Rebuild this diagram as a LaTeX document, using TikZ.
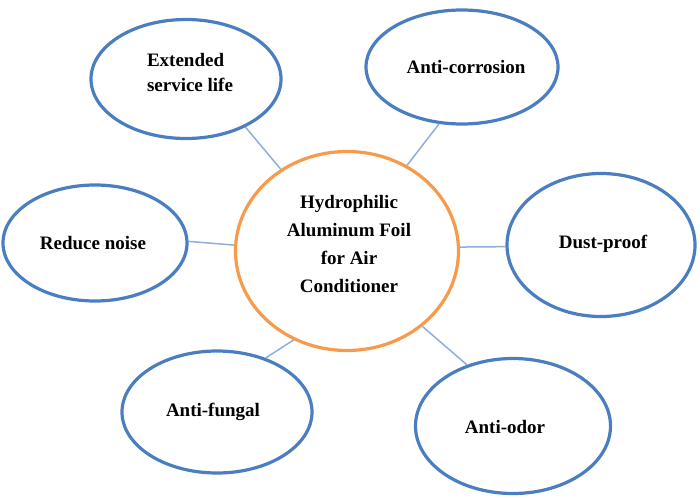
\documentclass[tikz,border=0pt]{standalone}
\usepackage{fontspec}
\setmainfont{Liberation Serif}
\usetikzlibrary{shapes.geometric}
\definecolor{ringblue}{HTML}{4A7EC1}
\definecolor{ringorange}{HTML}{F79A4B}
\definecolor{linkblue}{HTML}{8FAEDB}
\begin{document}
\begin{tikzpicture}[x=1pt,y=-1pt,
  bubble/.style={ellipse,draw=ringblue,line width=3.2pt,inner sep=0pt},
  hub/.style={ellipse,draw=ringorange,line width=3.2pt,inner sep=0pt},
  lbl/.style={font=\bfseries\fontsize{19}{25}\selectfont},
  hublbl/.style={font=\bfseries\fontsize{19}{28}\selectfont,align=center},
  link/.style={draw=linkblue,line width=1.5pt}]
\useasboundingbox (0,0) rectangle (700,497);
\node[hub,minimum width=223pt,minimum height=199pt] (c) at (347,251) {};
\node[hublbl] (ct) at (349,244) {Hydrophilic\\Aluminum Foil\\for Air\\Conditioner};
\node[bubble,minimum width=190pt,minimum height=119pt] (tl) at (186,79) {};
\node[lbl,align=left] (tlt) at (190,73) {Extended\\service life};
\node[bubble,minimum width=192pt,minimum height=114pt] (tr) at (462,67) {};
\node[lbl] (trt) at (466,67) {Anti-corrosion};
\node[bubble,minimum width=184pt,minimum height=116pt] (l) at (95,243) {};
\node[lbl] (lt) at (93,243) {Reduce noise};
\node[bubble,minimum width=188pt,minimum height=143pt] (r) at (601,245) {};
\node[lbl] (rt) at (603,244) {Dust-proof};
\node[bubble,minimum width=190pt,minimum height=122pt] (bl) at (217,412) {};
\node[lbl] (blt) at (213,412) {Anti-fungal};
\node[bubble,minimum width=195pt,minimum height=135pt] (br) at (513,426) {};
\node[lbl] (brt) at (505,427) {Anti-odor};
\draw[link] (tl.-39) -- (c.129);
\draw[link] (tr.248) -- (c.55);
\draw[link] (l.1) -- (c.177);
\draw[link] (r.181) -- (c.2);
\draw[link] (bl.48) -- (c.239);
\draw[link] (br.127) -- (c.315);
\end{tikzpicture}
\end{document}
